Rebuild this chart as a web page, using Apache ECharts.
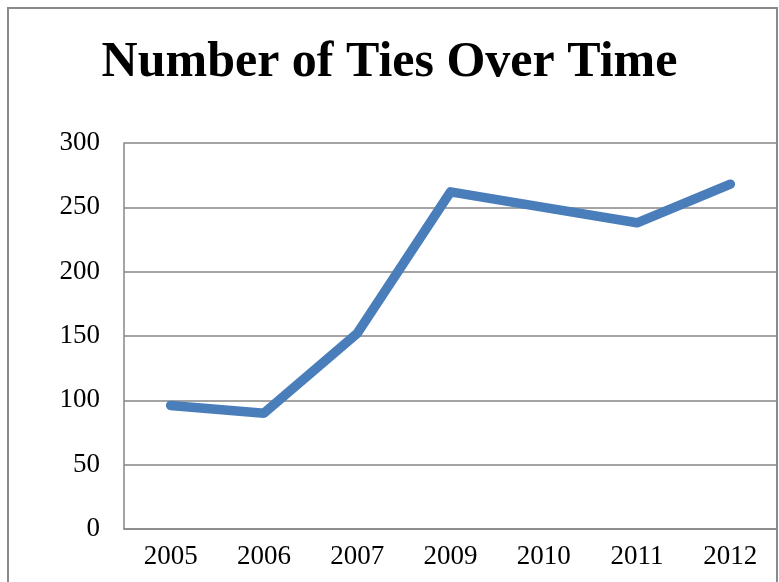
<!DOCTYPE html>
<html>
<head>
<meta charset="utf-8">
<script src="https://cdn.jsdelivr.net/npm/echarts@6/dist/echarts.min.js"></script>
<style>
html,body{margin:0;padding:0;background:#fff;}
#chart{width:779px;height:582px;}
</style>
</head>
<body>
<div id="chart"></div>
<script>
const title = "Number of Ties Over Time";
const years = ["2005", "2006", "2007", "2009", "2010", "2011", "2012"];
const ties = [96, 90, 152, 262, 250, 238, 268];
const yTicks = { min: 0, max: 300, interval: 50 };

const chart = echarts.init(document.getElementById('chart'), null, { renderer: 'canvas' });
const serif = '"Liberation Serif", "DejaVu Serif", serif';
chart.setOption({
  animation: false,
  backgroundColor: '#ffffff',
  title: {
    text: title,
    left: 'center',
    top: 33,
    textStyle: { fontFamily: serif, fontWeight: 'bold', fontSize: 50, color: '#000' }
  },
  graphic: [{
    type: 'rect',
    shape: { x: 8, y: 8, width: 769, height: 600 },
    style: { fill: 'none', stroke: '#8a8a8a', lineWidth: 2 },
    silent: true, z: 100
  }],
  grid: { left: 124, right: 2, top: 143, bottom: 53, containLabel: false },
  xAxis: {
    type: 'category',
    data: years,
    boundaryGap: true,
    axisLine: { show: true, lineStyle: { color: '#868686', width: 1.5 } },
    axisTick: { show: false },
    axisLabel: { fontFamily: serif, fontSize: 27, color: '#000', margin: 14 }
  },
  yAxis: {
    type: 'value',
    min: yTicks.min, max: yTicks.max, interval: yTicks.interval,
    axisLine: { show: true, lineStyle: { color: '#868686', width: 1.5 } },
    axisTick: { show: false },
    splitLine: { show: true, lineStyle: { color: '#868686', width: 1.5 } },
    axisLabel: { fontFamily: serif, fontSize: 27, color: '#000', margin: 24 }
  },
  series: [{
    type: 'line',
    data: ties,
    symbol: 'none',
    lineStyle: { color: '#4a7ebb', width: 9.5, cap: 'round', join: 'round' },
    itemStyle: { color: '#4a7ebb' }
  }]
});
</script>
</body>
</html>
